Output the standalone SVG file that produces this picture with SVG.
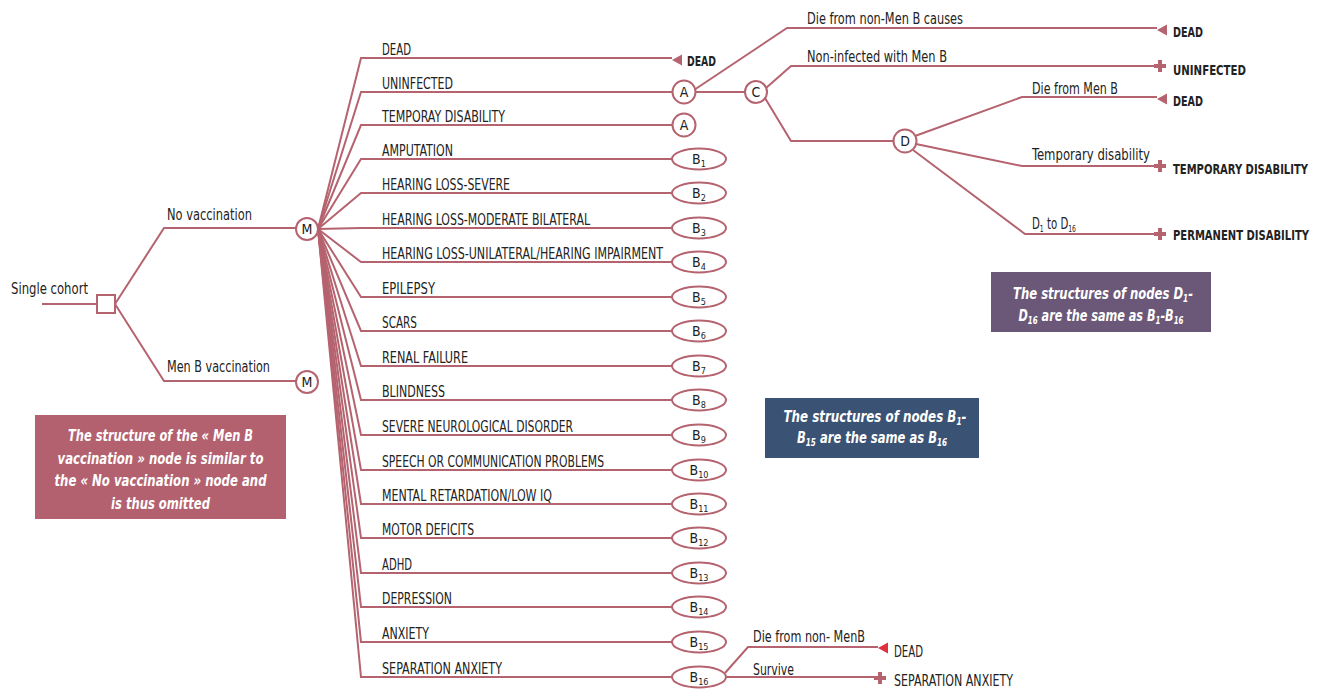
<svg xmlns="http://www.w3.org/2000/svg" width="1317" height="689" viewBox="0 0 1317 689">
<style>
.ln{fill:none;stroke:#b5636f;stroke-width:2}
.nd{fill:#fff;stroke:#b5636f;stroke-width:2}
.mk{fill:#b5636f}
.t{font-family:"Liberation Sans Narrow","DejaVu Sans Condensed","DejaVu Sans",sans-serif;fill:#222}
.cap{font-size:15px}
.mix{font-size:15px}
.rt{font-size:14px;font-weight:bold}
.nl{font-size:14px;text-anchor:middle}
.bx{font-family:"Liberation Sans Narrow","DejaVu Sans Condensed","DejaVu Sans",sans-serif;font-size:16px;font-weight:bold;font-style:italic;fill:#fff;text-anchor:middle}
</style>
<defs>
<path id="tri" d="M0,0 L10,-5.5 L10,5.5 Z"/>
<path id="plus" d="M-2,-6 H2 V-2 H6 V2 H2 V6 H-2 V2 H-6 V-2 H-2 Z"/>
</defs>
<rect width="1317" height="689" fill="#fff"/>

<g id="connectors">
<path class="ln" d="M42,304 H97"/>
<path class="ln" d="M115,304 L164,228 H296"/>
<path class="ln" d="M115,304 L164,381 H296"/>
<path class="ln" d="M318,229 L361,58 H672"/>
<path class="ln" d="M318,229 L361,92 H672.5"/>
<path class="ln" d="M318,229 L361,125 H672.5"/>
<path class="ln" d="M318,229 L361,159 H672"/>
<path class="ln" d="M318,229 L361,193 H672"/>
<path class="ln" d="M318,229 L361,228 H672"/>
<path class="ln" d="M318,229 L361,262 H672"/>
<path class="ln" d="M318,229 L361,297 H672"/>
<path class="ln" d="M318,229 L361,331 H672"/>
<path class="ln" d="M318,229 L361,366 H672"/>
<path class="ln" d="M318,229 L361,400 H672"/>
<path class="ln" d="M318,229 L361,435 H672"/>
<path class="ln" d="M318,229 L361,470 H672"/>
<path class="ln" d="M318,229 L361,504 H672"/>
<path class="ln" d="M318,229 L361,538 H672"/>
<path class="ln" d="M318,229 L361,573 H672"/>
<path class="ln" d="M318,229 L361,607 H672"/>
<path class="ln" d="M318,229 L361,642 H672"/>
<path class="ln" d="M318,229 L361,677 H672"/>
<path class="ln" d="M695.5,92 H744.5"/>
<path class="ln" d="M694,90 L787,28 H1157"/>
<path class="ln" d="M766,88 L791,66 H1155"/>
<path class="ln" d="M765,98 L791,141 H893.5"/>
<path class="ln" d="M915,136 L1022,97 H1157"/>
<path class="ln" d="M916,144 L1022,166 H1155"/>
<path class="ln" d="M913,150 L1025,234 H1155"/>
<path class="ln" d="M725,673 L748,647 H878"/>
<path class="ln" d="M726,677 H875"/>
</g>

<g id="root">
<text class="t mix" x="11" y="294" textLength="77" lengthAdjust="spacingAndGlyphs">Single cohort</text>
<rect class="nd" x="97" y="295" width="18" height="18"/>
</g>
<g id="branch-labels">
<text class="t mix" x="167" y="220" textLength="85" lengthAdjust="spacingAndGlyphs">No vaccination</text>
<text class="t mix" x="167" y="372" textLength="103" lengthAdjust="spacingAndGlyphs">Men B vaccination</text>
</g>
<g id="node-M1">
<circle class="nd" cx="307" cy="229" r="11"/>
<text class="t nl" x="307" y="234">M</text>
</g>
<g id="node-M2">
<circle class="nd" cx="307" cy="382" r="11"/>
<text class="t nl" x="307" y="387">M</text>
</g>

<g id="row-labels" class="t cap">
<text x="382" y="55" textLength="29" lengthAdjust="spacingAndGlyphs">DEAD</text>
<text x="382" y="89" textLength="71" lengthAdjust="spacingAndGlyphs">UNINFECTED</text>
<text x="382" y="122" textLength="123" lengthAdjust="spacingAndGlyphs">TEMPORAY DISABILITY</text>
<text x="382" y="156" textLength="71" lengthAdjust="spacingAndGlyphs">AMPUTATION</text>
<text x="382" y="190" textLength="128" lengthAdjust="spacingAndGlyphs">HEARING LOSS-SEVERE</text>
<text x="382" y="225" textLength="208" lengthAdjust="spacingAndGlyphs">HEARING LOSS-MODERATE BILATERAL</text>
<text x="382" y="259" textLength="281" lengthAdjust="spacingAndGlyphs">HEARING LOSS-UNILATERAL/HEARING IMPAIRMENT</text>
<text x="382" y="294" textLength="53" lengthAdjust="spacingAndGlyphs">EPILEPSY</text>
<text x="382" y="328" textLength="35" lengthAdjust="spacingAndGlyphs">SCARS</text>
<text x="382" y="363" textLength="86" lengthAdjust="spacingAndGlyphs">RENAL FAILURE</text>
<text x="382" y="397" textLength="63" lengthAdjust="spacingAndGlyphs">BLINDNESS</text>
<text x="382" y="432" textLength="191" lengthAdjust="spacingAndGlyphs">SEVERE NEUROLOGICAL DISORDER</text>
<text x="382" y="467" textLength="222" lengthAdjust="spacingAndGlyphs">SPEECH OR COMMUNICATION PROBLEMS</text>
<text x="382" y="501" textLength="170" lengthAdjust="spacingAndGlyphs">MENTAL RETARDATION/LOW IQ</text>
<text x="382" y="535" textLength="92" lengthAdjust="spacingAndGlyphs">MOTOR DEFICITS</text>
<text x="382" y="570" textLength="30" lengthAdjust="spacingAndGlyphs">ADHD</text>
<text x="382" y="604" textLength="70" lengthAdjust="spacingAndGlyphs">DEPRESSION</text>
<text x="382" y="639" textLength="47" lengthAdjust="spacingAndGlyphs">ANXIETY</text>
<text x="382" y="674" textLength="120" lengthAdjust="spacingAndGlyphs">SEPARATION ANXIETY</text>
</g>

<g id="term-dead-row">
<use href="#tri" x="672" y="60" class="mk"/>
<text class="t rt" x="687" y="66" textLength="29" lengthAdjust="spacingAndGlyphs">DEAD</text>
</g>
<g id="node-A1">
<circle class="nd" cx="684" cy="92" r="11.5"/>
<text class="t nl" x="684" y="97">A</text>
</g>
<g id="node-A2">
<circle class="nd" cx="684" cy="125" r="11.5"/>
<text class="t nl" x="684" y="130">A</text>
</g>
<g id="node-B1"><ellipse class="nd" cx="699" cy="159" rx="27" ry="10.5"/><text class="t nl" x="699" y="164">B<tspan font-size="9" dy="3">1</tspan></text></g>
<g id="node-B2"><ellipse class="nd" cx="699" cy="193" rx="27" ry="10.5"/><text class="t nl" x="699" y="198">B<tspan font-size="9" dy="3">2</tspan></text></g>
<g id="node-B3"><ellipse class="nd" cx="699" cy="228" rx="27" ry="10.5"/><text class="t nl" x="699" y="233">B<tspan font-size="9" dy="3">3</tspan></text></g>
<g id="node-B4"><ellipse class="nd" cx="699" cy="262" rx="27" ry="10.5"/><text class="t nl" x="699" y="267">B<tspan font-size="9" dy="3">4</tspan></text></g>
<g id="node-B5"><ellipse class="nd" cx="699" cy="297" rx="27" ry="10.5"/><text class="t nl" x="699" y="302">B<tspan font-size="9" dy="3">5</tspan></text></g>
<g id="node-B6"><ellipse class="nd" cx="699" cy="331" rx="27" ry="10.5"/><text class="t nl" x="699" y="336">B<tspan font-size="9" dy="3">6</tspan></text></g>
<g id="node-B7"><ellipse class="nd" cx="699" cy="366" rx="27" ry="10.5"/><text class="t nl" x="699" y="371">B<tspan font-size="9" dy="3">7</tspan></text></g>
<g id="node-B8"><ellipse class="nd" cx="699" cy="400" rx="27" ry="10.5"/><text class="t nl" x="699" y="405">B<tspan font-size="9" dy="3">8</tspan></text></g>
<g id="node-B9"><ellipse class="nd" cx="699" cy="435" rx="27" ry="10.5"/><text class="t nl" x="699" y="440">B<tspan font-size="9" dy="3">9</tspan></text></g>
<g id="node-B10"><ellipse class="nd" cx="699" cy="470" rx="27" ry="10.5"/><text class="t nl" x="699" y="475">B<tspan font-size="9" dy="3">10</tspan></text></g>
<g id="node-B11"><ellipse class="nd" cx="699" cy="504" rx="27" ry="10.5"/><text class="t nl" x="699" y="509">B<tspan font-size="9" dy="3">11</tspan></text></g>
<g id="node-B12"><ellipse class="nd" cx="699" cy="538" rx="27" ry="10.5"/><text class="t nl" x="699" y="543">B<tspan font-size="9" dy="3">12</tspan></text></g>
<g id="node-B13"><ellipse class="nd" cx="699" cy="573" rx="27" ry="10.5"/><text class="t nl" x="699" y="578">B<tspan font-size="9" dy="3">13</tspan></text></g>
<g id="node-B14"><ellipse class="nd" cx="699" cy="607" rx="27" ry="10.5"/><text class="t nl" x="699" y="612">B<tspan font-size="9" dy="3">14</tspan></text></g>
<g id="node-B15"><ellipse class="nd" cx="699" cy="642" rx="27" ry="10.5"/><text class="t nl" x="699" y="647">B<tspan font-size="9" dy="3">15</tspan></text></g>
<g id="node-B16"><ellipse class="nd" cx="699" cy="677" rx="27" ry="10.5"/><text class="t nl" x="699" y="682">B<tspan font-size="9" dy="3">16</tspan></text></g>

<g id="node-C">
<circle class="nd" cx="756" cy="92" r="11"/>
<text class="t nl" x="756" y="97">C</text>
</g>
<g id="node-D">
<circle class="nd" cx="905" cy="141" r="11.5"/>
<text class="t nl" x="905" y="146">D</text>
</g>

<g id="branch-labels-right" class="t mix">
<text x="807" y="24" textLength="156" lengthAdjust="spacingAndGlyphs">Die from non-Men B causes</text>
<text x="807" y="62" textLength="140" lengthAdjust="spacingAndGlyphs">Non-infected with Men B</text>
<text x="1032" y="94" textLength="86" lengthAdjust="spacingAndGlyphs">Die from Men B</text>
<text x="1032" y="160" textLength="118" lengthAdjust="spacingAndGlyphs">Temporary disability</text>
<text x="1032" y="229" textLength="44" lengthAdjust="spacingAndGlyphs">D<tspan font-size="9" dy="3">1</tspan><tspan dy="-3"> to D</tspan><tspan font-size="9" dy="3">16</tspan></text>
<text x="753" y="642" textLength="112" lengthAdjust="spacingAndGlyphs">Die from non- MenB</text>
<text x="753" y="675" textLength="41" lengthAdjust="spacingAndGlyphs">Survive</text>
</g>

<g id="term-dead-1"><use href="#tri" x="1157" y="30" class="mk"/><text class="t rt" x="1173" y="37" textLength="30" lengthAdjust="spacingAndGlyphs">DEAD</text></g>
<g id="term-uninfected"><use href="#plus" x="1160" y="66" class="mk"/><text class="t rt" x="1173" y="75" textLength="73" lengthAdjust="spacingAndGlyphs">UNINFECTED</text></g>
<g id="term-dead-2"><use href="#tri" x="1157" y="99" class="mk"/><text class="t rt" x="1173" y="106" textLength="30" lengthAdjust="spacingAndGlyphs">DEAD</text></g>
<g id="term-temp"><use href="#plus" x="1160" y="166" class="mk"/><text class="t rt" x="1173" y="174" textLength="135" lengthAdjust="spacingAndGlyphs">TEMPORARY DISABILITY</text></g>
<g id="term-perm"><use href="#plus" x="1160" y="234" class="mk"/><text class="t rt" x="1173" y="240" textLength="136" lengthAdjust="spacingAndGlyphs">PERMANENT DISABILITY</text></g>
<g id="term-dead-3"><use href="#tri" x="878" y="648" fill="#e0303c"/><text class="t cap" x="894" y="657" textLength="29" lengthAdjust="spacingAndGlyphs">DEAD</text></g>
<g id="term-sep"><use href="#plus" x="880" y="678" class="mk"/><text class="t cap" x="894" y="686" textLength="119" lengthAdjust="spacingAndGlyphs">SEPARATION ANXIETY</text></g>

<g id="note-menb">
<rect x="35" y="415" width="251" height="104" fill="#b3616f"/>
<text class="bx" x="160.5" y="441" textLength="185" lengthAdjust="spacingAndGlyphs">The structure of the « Men B</text>
<text class="bx" x="160.5" y="463.5" textLength="206" lengthAdjust="spacingAndGlyphs">vaccination » node is similar to</text>
<text class="bx" x="160.5" y="486" textLength="212" lengthAdjust="spacingAndGlyphs">the « No vaccination » node and</text>
<text class="bx" x="160.5" y="508.5" textLength="99" lengthAdjust="spacingAndGlyphs">is thus omitted</text>
</g>
<g id="note-B">
<rect x="765" y="398" width="214" height="60" fill="#3a5274"/>
<text class="bx" x="875" y="422" textLength="183" lengthAdjust="spacingAndGlyphs">The structures of nodes B<tspan font-size="10" dy="3">1</tspan><tspan dy="-3">-</tspan></text>
<text class="bx" x="872" y="443" textLength="150" lengthAdjust="spacingAndGlyphs">B<tspan font-size="10" dy="3">15</tspan><tspan dy="-3"> are the same as B</tspan><tspan font-size="10" dy="3">16</tspan></text>
</g>
<g id="note-D">
<rect x="991" y="272" width="220" height="60" fill="#6b5878"/>
<text class="bx" x="1103" y="299" textLength="180" lengthAdjust="spacingAndGlyphs">The structures of nodes D<tspan font-size="10" dy="3">1</tspan><tspan dy="-3">-</tspan></text>
<text class="bx" x="1101" y="320.5" textLength="165" lengthAdjust="spacingAndGlyphs">D<tspan font-size="10" dy="3">16</tspan><tspan dy="-3"> are the same as B</tspan><tspan font-size="10" dy="3">1</tspan><tspan dy="-3">-B</tspan><tspan font-size="10" dy="3">16</tspan></text>
</g>
</svg>
